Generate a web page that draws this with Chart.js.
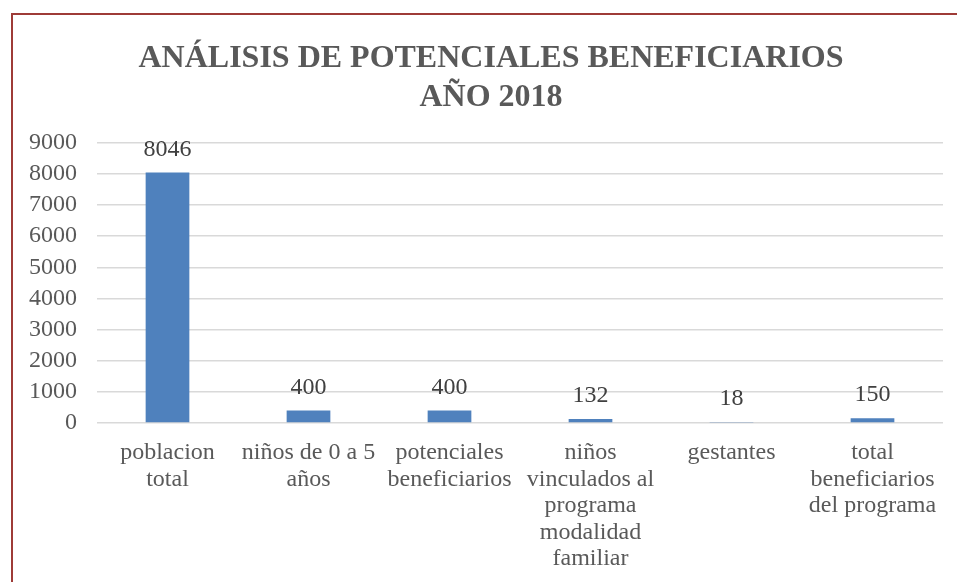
<!DOCTYPE html>
<html>
<head>
<meta charset="utf-8">
<script src="https://cdn.jsdelivr.net/npm/chart.js@4/dist/chart.umd.min.js"></script>
<style>
  html, body { margin: 0; padding: 0; background: #ffffff; }
  #wrap { position: relative; width: 957px; height: 582px; overflow: hidden; }
  #frame { position: absolute; left: 11px; top: 13px; width: 960px; height: 600px;
           border-top: 2px solid #9e3b37; border-left: 2px solid #9e3b37; }
  canvas { position: absolute; left: 0; top: 0; }
</style>
</head>
<body>
<div id="wrap">
  <div id="frame"></div>
  <canvas id="c" width="957" height="582"></canvas>
</div>
<script>
const titleLines = ["ANÁLISIS DE POTENCIALES BENEFICIARIOS", "AÑO 2018"];
const categories = [
  ["poblacion", "total"],
  ["niños de 0 a 5", "años"],
  ["potenciales", "beneficiarios"],
  ["niños", "vinculados al", "programa", "modalidad", "familiar"],
  ["gestantes"],
  ["total", "beneficiarios", "del programa"]
];
const values = [8046, 400, 400, 132, 18, 150];
const yMin = 0, yMax = 9000, yStep = 1000;

const FONT = "'Liberation Serif', 'Times New Roman', serif";

const dataLabels = {
  id: 'dataLabels',
  afterDatasetsDraw(chart) {
    const ctx = chart.ctx;
    const meta = chart.getDatasetMeta(0);
    ctx.save();
    ctx.font = "24px " + FONT;
    ctx.fillStyle = "#404040";
    ctx.textAlign = "center";
    ctx.textBaseline = "alphabetic";
    meta.data.forEach((bar, i) => {
      ctx.fillText(String(values[i]), bar.x, bar.y - 17);
    });
    ctx.restore();
  }
};

const titleShift = {
  id: 'titleShift',
  afterLayout(chart) {
    const t = chart.titleBlock;
    if (t) { t.left += 15; t.right += 15; }
  }
};

new Chart(document.getElementById('c'), {
  type: 'bar',
  data: {
    labels: categories,
    datasets: [{
      data: values,
      backgroundColor: '#4f81bd',
      borderWidth: 0,
      categoryPercentage: 1,
      barPercentage: 0.31
    }]
  },
  options: {
    responsive: false,
    animation: false,
    devicePixelRatio: 1,
    layout: { padding: { left: 9, right: 14, top: 0, bottom: -7 } },
    plugins: {
      legend: { display: false },
      tooltip: { enabled: false },
      title: {
        display: true,
        text: titleLines,
        color: '#595959',
        font: { family: FONT, size: 32, weight: 'bold', lineHeight: 1.2 },
        padding: { top: 40, bottom: 26 }
      }
    },
    scales: {
      x: {
        grid: { display: false, drawTicks: false },
        border: { display: false },
        ticks: {
          color: '#595959',
          font: { family: FONT, size: 24, lineHeight: 1.1 },
          padding: 17,
          maxRotation: 0,
          autoSkip: false
        }
      },
      y: {
        min: yMin, max: yMax,
        grid: { color: '#d9d9d9', lineWidth: 1.5, drawTicks: false },
        border: { display: false },
        ticks: {
          stepSize: yStep,
          autoSkip: false,
          color: '#595959',
          font: { family: FONT, size: 24 },
          padding: 20,
          callback: (v) => String(v)
        }
      }
    }
  },
  plugins: [dataLabels, titleShift]
});
</script>
</body>
</html>
